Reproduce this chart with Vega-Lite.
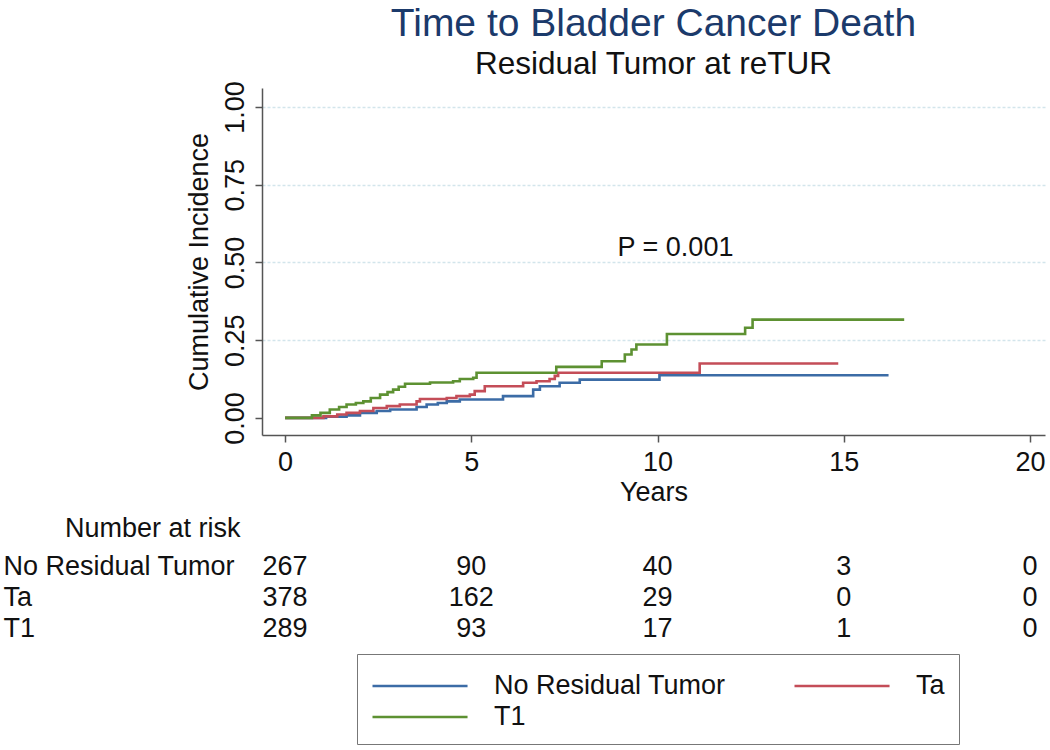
{
  "$schema": "https://vega.github.io/schema/vega-lite/v6.json",
  "background": "white",
  "padding": {"left": 3, "top": 5, "right": 5, "bottom": 2},
  "config": {
    "font": "Liberation Sans",
    "view": {"stroke": null},
    "axis": {"labelColor": "#111", "titleColor": "#111", "domainColor": "#555", "tickColor": "#555", "titleFontWeight": "normal", "labelFontSize": 27, "titleFontSize": 27},
    "text": {"color": "#111"}
  },
  "datasets": {
    "curves": [
      {"group": "No Residual Tumor", "t": 0, "v": 0},
      {"group": "No Residual Tumor", "t": 1.1, "v": 0.004},
      {"group": "No Residual Tumor", "t": 1.65, "v": 0.008},
      {"group": "No Residual Tumor", "t": 2.01, "v": 0.016},
      {"group": "No Residual Tumor", "t": 2.46, "v": 0.022},
      {"group": "No Residual Tumor", "t": 2.82, "v": 0.027},
      {"group": "No Residual Tumor", "t": 3.53, "v": 0.035},
      {"group": "No Residual Tumor", "t": 3.8, "v": 0.043},
      {"group": "No Residual Tumor", "t": 4.1, "v": 0.048},
      {"group": "No Residual Tumor", "t": 4.34, "v": 0.053},
      {"group": "No Residual Tumor", "t": 4.69, "v": 0.059},
      {"group": "No Residual Tumor", "t": 5.85, "v": 0.07},
      {"group": "No Residual Tumor", "t": 6.66, "v": 0.091},
      {"group": "No Residual Tumor", "t": 6.84, "v": 0.102},
      {"group": "No Residual Tumor", "t": 7.37, "v": 0.113},
      {"group": "No Residual Tumor", "t": 7.91, "v": 0.123},
      {"group": "No Residual Tumor", "t": 10.05, "v": 0.137},
      {"group": "No Residual Tumor", "t": 16.2, "v": 0.137},
      {"group": "Ta", "t": 0, "v": 0},
      {"group": "Ta", "t": 1.03, "v": 0.005},
      {"group": "Ta", "t": 1.4, "v": 0.011},
      {"group": "Ta", "t": 1.65, "v": 0.016},
      {"group": "Ta", "t": 2.01, "v": 0.022},
      {"group": "Ta", "t": 2.37, "v": 0.032},
      {"group": "Ta", "t": 2.73, "v": 0.038},
      {"group": "Ta", "t": 3.08, "v": 0.043},
      {"group": "Ta", "t": 3.53, "v": 0.053},
      {"group": "Ta", "t": 3.62, "v": 0.061},
      {"group": "Ta", "t": 4.34, "v": 0.064},
      {"group": "Ta", "t": 4.6, "v": 0.07},
      {"group": "Ta", "t": 4.96, "v": 0.075},
      {"group": "Ta", "t": 5.09, "v": 0.086},
      {"group": "Ta", "t": 5.36, "v": 0.102},
      {"group": "Ta", "t": 6.39, "v": 0.113},
      {"group": "Ta", "t": 6.75, "v": 0.118},
      {"group": "Ta", "t": 7.1, "v": 0.125},
      {"group": "Ta", "t": 7.24, "v": 0.135},
      {"group": "Ta", "t": 7.33, "v": 0.145},
      {"group": "Ta", "t": 11.13, "v": 0.175},
      {"group": "Ta", "t": 14.85, "v": 0.175},
      {"group": "T1", "t": 0, "v": 0},
      {"group": "T1", "t": 0.72, "v": 0.008},
      {"group": "T1", "t": 0.95, "v": 0.016},
      {"group": "T1", "t": 1.2, "v": 0.027},
      {"group": "T1", "t": 1.45, "v": 0.035},
      {"group": "T1", "t": 1.65, "v": 0.043},
      {"group": "T1", "t": 1.9, "v": 0.048},
      {"group": "T1", "t": 2.1, "v": 0.053},
      {"group": "T1", "t": 2.3, "v": 0.064},
      {"group": "T1", "t": 2.55, "v": 0.075},
      {"group": "T1", "t": 2.75, "v": 0.083},
      {"group": "T1", "t": 2.9, "v": 0.091},
      {"group": "T1", "t": 3.05, "v": 0.1},
      {"group": "T1", "t": 3.22, "v": 0.11},
      {"group": "T1", "t": 3.89, "v": 0.114},
      {"group": "T1", "t": 4.51, "v": 0.118},
      {"group": "T1", "t": 4.69, "v": 0.125},
      {"group": "T1", "t": 5.05, "v": 0.129},
      {"group": "T1", "t": 5.14, "v": 0.145},
      {"group": "T1", "t": 7.28, "v": 0.164},
      {"group": "T1", "t": 8.5, "v": 0.182},
      {"group": "T1", "t": 9.12, "v": 0.204},
      {"group": "T1", "t": 9.3, "v": 0.22},
      {"group": "T1", "t": 9.43, "v": 0.236},
      {"group": "T1", "t": 10.25, "v": 0.27},
      {"group": "T1", "t": 12.35, "v": 0.29},
      {"group": "T1", "t": 12.55, "v": 0.316},
      {"group": "T1", "t": 16.62, "v": 0.316}
    ],
    "risk": [
      {"row": "No Residual Tumor", "t": 0, "n": 267},
      {"row": "No Residual Tumor", "t": 5, "n": 90},
      {"row": "No Residual Tumor", "t": 10, "n": 40},
      {"row": "No Residual Tumor", "t": 15, "n": 3},
      {"row": "No Residual Tumor", "t": 20, "n": 0},
      {"row": "Ta", "t": 0, "n": 378},
      {"row": "Ta", "t": 5, "n": 162},
      {"row": "Ta", "t": 10, "n": 29},
      {"row": "Ta", "t": 15, "n": 0},
      {"row": "Ta", "t": 20, "n": 0},
      {"row": "T1", "t": 0, "n": 289},
      {"row": "T1", "t": 5, "n": 93},
      {"row": "T1", "t": 10, "n": 17},
      {"row": "T1", "t": 15, "n": 1},
      {"row": "T1", "t": 20, "n": 0}
    ],
    "ann": [
      {"t": 10.48, "v": 0.547, "label": "P = 0.001"}
    ]
  },
  "vconcat": [
    {
      "width": 783,
      "height": 347,
      "title": {
        "text": "Time to Bladder Cancer Death",
        "subtitle": "Residual Tumor at reTUR",
        "fontSize": 39,
        "fontWeight": "normal",
        "color": "#1b3a6b",
        "subtitleFontSize": 31.5,
        "subtitleColor": "#111",
        "anchor": "middle",
        "frame": "group",
        "offset": 0,
        "subtitlePadding": 5
      },
      "layer": [
        {
          "data": {"name": "curves"},
          "mark": {"type": "line", "interpolate": "step-after", "strokeWidth": 2.6},
          "encoding": {
            "x": {
              "field": "t", "type": "quantitative",
              "scale": {"domain": [-0.62, 20.4], "nice": false, "zero": false},
              "axis": {"values": [0, 5, 10, 15, 20], "title": "Years", "grid": false, "tickSize": 7, "labelPadding": 7, "titlePadding": 4, "domainWidth": 1.5, "tickWidth": 1.5, "labelFlush": false}
            },
            "y": {
              "field": "v", "type": "quantitative",
              "scale": {"domain": [-0.055, 1.061], "nice": false, "zero": false},
              "axis": {
                "values": [0, 0.25, 0.5, 0.75, 1],
                "format": ".2f",
                "title": "Cumulative Incidence",
                "labelAngle": 270,
                "labelAlign": "center",
                "labelBaseline": "bottom",
                "tickSize": 7,
                "labelPadding": 6,
                "titlePadding": 8,
                "domainWidth": 1.5,
                "tickWidth": 1.5,
                "grid": true,
                "gridDash": [3, 2],
                "gridWidth": 1.5,
                "gridColor": {"condition": {"test": "datum.value === 0", "value": "rgba(0,0,0,0)"}, "value": "#d3e5ec"}
              }
            },
            "color": {
              "field": "group", "type": "nominal",
              "scale": {"domain": ["No Residual Tumor", "Ta", "T1"], "range": ["#3c6ca6", "#c44d58", "#5d9132"]},
              "legend": {
                "orient": "none",
                "legendX": 95,
                "legendY": 566,
                "title": null,
                "values": ["No Residual Tumor", "T1", "Ta"],
                "columns": 2,
                "symbolType": "M-1,0H4.76",
                "symbolSize": 1089,
                "symbolStrokeWidth": 2.6,
                "symbolFillColor": "transparent",
                "labelFontSize": 27,
                "labelColor": "#111",
                "labelOffset": 87,
                "labelLimit": 400,
                "columnPadding": 63,
                "rowPadding": 0,
                "padding": 14,
                "strokeColor": "#777",
                "fillColor": "white"
              }
            }
          }
        },
        {
          "data": {"name": "ann"},
          "mark": {"type": "text", "fontSize": 27},
          "encoding": {
            "x": {"field": "t", "type": "quantitative"},
            "y": {"field": "v", "type": "quantitative"},
            "text": {"field": "label"}
          }
        }
      ]
    },
    {
      "width": 783,
      "height": 93,
      "title": {"text": "Number at risk", "anchor": "start", "frame": "group", "dx": -197, "fontSize": 27, "fontWeight": "normal", "color": "#111", "offset": 8},
      "data": {"name": "risk"},
      "mark": {"type": "text", "fontSize": 27},
      "encoding": {
        "x": {"field": "t", "type": "quantitative", "scale": {"domain": [-0.62, 20.4], "nice": false, "zero": false}, "axis": null},
        "y": {
          "field": "row", "type": "nominal",
          "sort": ["No Residual Tumor", "Ta", "T1"],
          "axis": {"title": null, "domain": false, "ticks": false, "labelAlign": "left", "labelPadding": 259, "labelFontSize": 27, "labelLimit": 300}
        },
        "text": {"field": "n", "type": "quantitative"}
      }
    }
  ],
  "spacing": 10,
  "resolve": {"scale": {"x": "independent", "y": "independent"}}
}
